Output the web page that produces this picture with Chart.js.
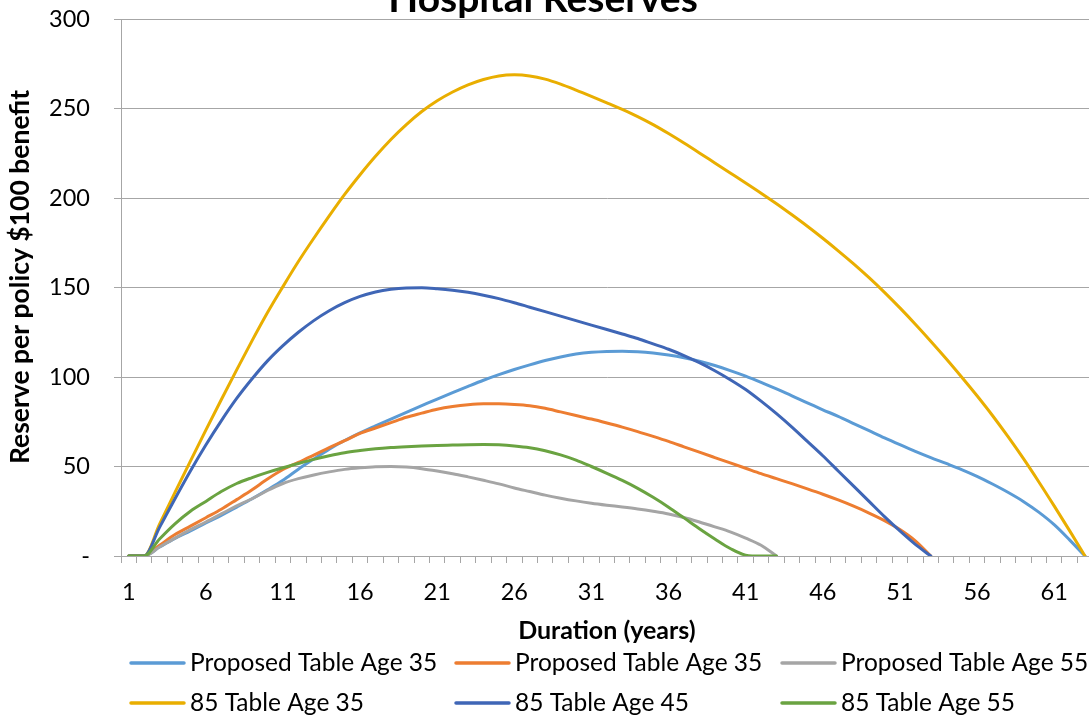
<!DOCTYPE html>
<html><head><meta charset="utf-8">
<script src="https://cdn.jsdelivr.net/npm/chart.js@4.4.1/dist/chart.umd.min.js"></script>
<style>
html,body{margin:0;padding:0;overflow:hidden;background:#fff;width:1089px;height:719px;}
#wrap{position:absolute;left:0;top:-50px;width:1100px;height:769px;}
</style></head><body>
<div id="wrap"><canvas id="c"></canvas></div>
<script>
const chartTitle = 'Hospital Reserves';
const xAxisTitle = 'Duration (years)';
const yAxisTitle = 'Reserve per policy $100 benefit';
const categories = ['1','2','3','4','5','6','7','8','9','10','11','12','13','14','15','16','17','18','19','20','21','22','23','24','25','26','27','28','29','30','31','32','33','34','35','36','37','38','39','40','41','42','43','44','45','46','47','48','49','50','51','52','53','54','55','56','57','58','59','60','61','62','63'];
const xTickLabels = ['1','6','11','16','21','26','31','36','41','46','51','56','61'];
const yTickValues = [0,50,100,150,200,250,300];

const seriesNames = ['Proposed Table Age 35','Proposed Table Age 35','Proposed Table Age 55','85 Table Age 35','85 Table Age 45','85 Table Age 55'];
const seriesColors = ['#5B9BD5','#ED7D31','#A5A5A5','#E9AE00','#3F66B6','#6AA341'];

const proposedAge35a = [0,0,5,9.8,14,18.5,22.7,27.3,32,37,42.3,48.5,54.2,59.7,64.5,68.8,72.7,76.5,80.3,84,87.7,91.3,94.8,98.2,101.3,104.2,106.8,109.2,111.2,112.8,113.8,114.3,114.4,114.1,113.4,112.3,110.8,108.8,106.4,103.6,100.5,97,93.3,89.5,85.5,81.7,78,74,70,66,62.2,58.5,55,51.7,48.3,44.5,40.2,35.6,30.5,24.5,17.5,9,0];
const proposedAge35b = [0,0,6,12,16.7,21.4,26.1,31.5,37,43,48.3,52.3,56.3,60.5,64.4,68.5,71.5,74.5,77.5,79.8,82,83.5,84.5,85,85,84.7,84,82.5,80.5,78.5,76.5,74.3,72,69.5,66.8,64,61,58,55,52,49,46,43.2,40.4,37.5,34.5,31.3,27.8,24,19.8,14.8,8.5,0,null,null,null,null,null,null,null,null,null,null];
const proposedAge55 = [0,0,5,10,14.7,19,23.5,28,32,36.6,40.5,43.2,45.3,47,48.4,49.3,49.9,50,49.7,48.8,47.5,46,44.2,42.3,40.3,38,36,34,32.3,30.8,29.5,28.4,27.4,26.3,25,23.5,21.5,19,16.3,13.5,10,6,0,null,null,null,null,null,null,null,null,null,null,null,null,null,null,null,null,null,null,null,null];
const table85Age35 = [0,0,17.8,35.5,53,70.3,87.3,104,120.3,136,150.5,164.5,177.5,190,202,213,223.3,232.7,241,248.3,254.3,259.2,263.2,266.2,268.2,268.8,268.2,266.4,263.6,260.3,256.8,253.2,249.5,245.5,241,236,230.7,225.2,219.6,214,208.4,202.7,196.8,190.6,184.2,177.5,170.5,163.2,155.5,147.3,138.6,129.5,120,110.2,100,89.5,78.5,66.8,54.5,41.5,28,14.2,0];
const table85Age45 = [0,0,16,32,47.5,62,75.5,88,99,109,117.5,125,131.5,137,141.5,145,147.5,149,149.7,149.8,149.3,148.5,147.3,145.7,143.8,141.5,139,136.5,134,131.5,129,126.5,124,121.5,118.5,115.5,112,108,103.5,98.5,93,86.5,79.5,72,64,56,47.5,39,30.5,22,14,6.5,0,null,null,null,null,null,null,null,null,null,null];
const table85Age55 = [0,0,9.5,18,25,30.5,36,40.5,43.8,46.7,49.3,51.7,54,56,57.7,58.9,59.9,60.6,61.1,61.5,61.8,62,62.2,62.3,62.1,61.5,60.5,58.8,56.5,53.6,50,46.2,42.2,37.8,32.8,27.3,21.3,15.2,9.5,4.2,0.5,0,0,null,null,null,null,null,null,null,null,null,null,null,null,null,null,null,null,null,null,null,null];

const seriesData = [proposedAge35a, proposedAge35b, proposedAge55, table85Age35, table85Age45, table85Age55];
const FONT = 'Lato';

const legendCols = [131, 456, 782];
const legendRows = [713, 753];
const gridLegend = {
  id: 'gridLegend',
  afterDraw(chart) {
    const c = chart.ctx;
    chart.data.datasets.forEach((ds, i) => {
      const x = legendCols[i % 3], y = legendRows[Math.floor(i / 3)];
      c.save();
      c.strokeStyle = ds.borderColor; c.lineWidth = 3.5; c.lineCap = 'round';
      c.beginPath(); c.moveTo(x, y); c.lineTo(x + 53, y); c.stroke();
      c.fillStyle = '#000'; c.font = '24.5px ' + FONT;
      c.textBaseline = 'middle'; c.textAlign = 'left';
      c.fillText(ds.label, x + 59, y);
      c.restore();
    });
  }
};
const titles = {
  id: 'titles',
  afterDraw(chart) {
    const c = chart.ctx;
    c.save();
    c.font = 'bold 39px ' + FONT; c.fillStyle = '#000';
    c.textAlign = 'center'; c.textBaseline = 'alphabetic';
    c.fillText(chartTitle, 543, 62);
    c.restore();
    c.save();
    c.translate(20, 327);
    c.rotate(-Math.PI / 2);
    c.font = 'bold 26.5px ' + FONT; c.fillStyle = '#000';
    c.textAlign = 'center'; c.textBaseline = 'middle';
    c.fillText(yAxisTitle, 0, 0);
    c.restore();
  }
};

function draw() {
  new Chart(document.getElementById('c'), {
    type: 'line',
    data: {
      labels: categories,
      datasets: seriesData.map((d, i) => ({
        label: seriesNames[i], data: d, borderColor: seriesColors[i], backgroundColor: seriesColors[i],
        order: seriesData.length - i, fill: false, spanGaps: false
      }))
    },
    options: {
      responsive: true, maintainAspectRatio: false, animation: false,
      layout: { padding: { left: 0, right: 1, top: 69, bottom: 73 } },
      plugins: { legend: { display: false }, tooltip: { enabled: false }, title: { display: false } },
      elements: {
        point: { radius: 0 },
        line: { borderWidth: 3, tension: 0.4, cubicInterpolationMode: 'monotone', borderCapStyle: 'round', borderJoinStyle: 'round' }
      },
      scales: {
        x: {
          offset: true,
          grid: { offset: true, drawOnChartArea: false, drawTicks: true, tickLength: 7, color: '#A6A6A6' },
          border: { color: '#A6A6A6' },
          ticks: { autoSkip: false, maxRotation: 0, minRotation: 0, padding: 15, color: '#000',
            font: { family: FONT, size: 23.5 },
            callback: (v, i) => xTickLabels.includes(categories[i]) ? categories[i] : '' },
          title: { display: true, text: xAxisTitle, color: '#000',
            font: { family: FONT, size: 25, weight: 'bold' }, padding: { top: 0, bottom: 0 } },
          afterFit(s) { s.height = 90; }
        },
        y: {
          min: 0, max: 300,
          afterBuildTicks(s) { s.ticks = yTickValues.map(v => ({ value: v })); },
          ticks: { padding: 24, color: '#000', font: { family: FONT, size: 23.5 },
            callback: v => v === 0 ? '-' : String(v) },
          grid: { color: '#A6A6A6', tickLength: 7 },
          border: { color: '#A6A6A6' },
          afterFit(s) { s.width = 121; }
        }
      }
    },
    plugins: [gridLegend, titles]
  });
}
if (document.fonts && document.fonts.load) {
  Promise.all([document.fonts.load('22px Lato'), document.fonts.load('bold 22px Lato')]).then(draw, draw);
} else draw();
</script>
</body></html>
